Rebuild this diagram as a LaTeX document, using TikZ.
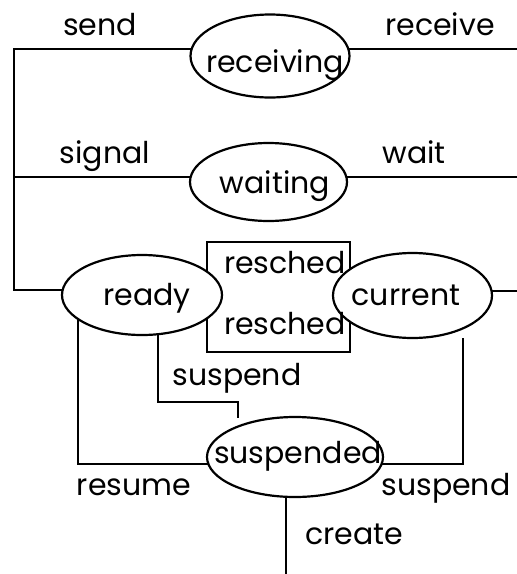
\documentclass[tikz,border=0pt]{standalone}
\usepackage{fontspec}
\setmainfont{Poppins}
\usetikzlibrary{shapes.geometric,backgrounds}
\begin{document}
\begin{tikzpicture}[x=1pt,y=-1pt,
  thickline/.style={line width=2.2pt},
  thickline,
  state/.style={draw, ellipse, fill=white, inner sep=0pt},
  lbl/.style={anchor=base, inner sep=0pt, font=\fontsize{30}{36}\selectfont}]
\useasboundingbox (0,0) rectangle (517,574);
% states
\node[state, minimum width=159pt, minimum height=83pt] (receiving) at (270,56) {};
\node[state, minimum width=157pt, minimum height=78pt] (waiting) at (268.5,182) {};
\node[state, minimum width=160pt, minimum height=80pt] (ready) at (142,295) {};
\node[state, minimum width=159pt, minimum height=85pt] (current) at (412.5,295.5) {};
\node[state, minimum width=176pt, minimum height=80pt] (suspended) at (295,457) {};
% texts
\node[lbl] (t-receiving) at (275,72) {receiving};
\node[lbl] (t-waiting) at (275,193) {waiting};
\node[lbl] (t-ready) at (147,305) {ready};
\node[lbl] (t-current) at (406,305) {current};
\node[lbl] (t-suspended) at (298,463) {suspended};
\node[lbl] (l-send) at (100,35) {send};
\node[lbl] (l-receive) at (440,35) {receive};
\node[lbl] (l-signal) at (105,163) {signal};
\node[lbl] (l-wait) at (414,163) {wait};
\node[lbl] (l-resched1) at (285,273) {resched};
\node[lbl] (l-resched2) at (285,334) {resched};
\node[lbl] (l-suspend1) at (237,385) {suspend};
\node[lbl] (l-resume) at (134,495) {resume};
\node[lbl] (l-suspend2) at (446,495) {suspend};
\node[lbl] (l-create) at (354,544) {create};
% free ends and corners
\coordinate (tl) at (14,49);
\coordinate (ml) at (14,177);
\coordinate (bl) at (14,290);
\coordinate (tr) at (517,49);
\coordinate (mr) at (517,177);
\coordinate (br) at (517,291);
\coordinate (rl) at (78,464);
\coordinate (rm1) at (158,402);
\coordinate (rm2) at (238,418);
\coordinate (cr1) at (463,338);
\coordinate (cr2) at (463,464);
\coordinate (cb) at (286,574);
\begin{scope}[on background layer, thickline]
\node[draw, thickline, minimum width=143pt, minimum height=110pt, inner sep=0pt] (box) at (278.5,297) {};
\draw[thickline] (receiving.center |- tl) -- (tl) -- (bl) -- (ready.center |- bl);
\draw[thickline] (ml) -- (waiting.center |- ml);
\draw[thickline] (receiving.center |- tr) -- (tr);
\draw[thickline] (waiting.center |- mr) -- (mr);
\draw[thickline] (current.center |- br) -- (br);
\draw[thickline] (ready.center -| rl) -- (rl) -- (suspended.center |- rl);
\draw[thickline] (ready.center -| rm1) -- (rm1) -| (rm2);
\draw[thickline] (cr1) -- (cr2) -- (suspended.center |- cr2);
\draw[thickline] (suspended.center -| cb) -- (cb);
\end{scope}
\end{tikzpicture}
\end{document}
